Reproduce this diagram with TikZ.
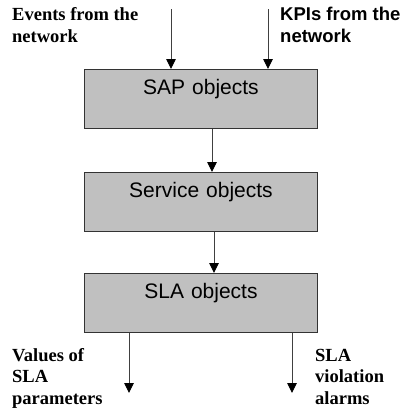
\documentclass[tikz,border=0pt]{standalone}
\usepackage{fontspec}
\setmainfont{Liberation Serif}
\newfontfamily\arialfont{Liberation Sans}
\usetikzlibrary{arrows.meta}
\definecolor{boxgray}{HTML}{C0C0C0}
\begin{document}
\begin{tikzpicture}[x=1pt,y=1pt,
  objbox/.style={draw=black!80, line width=0.9pt, fill=boxgray, inner sep=0pt,
    text width=233pt, align=center, text height=25pt, text depth=34pt,
    font=\arialfont\fontsize{21}{24}\selectfont},
  serlabel/.style={inner sep=0pt, align=left, anchor=base west,
    font=\bfseries\fontsize{18.5}{21.5}\selectfont},
  sanslabel/.style={inner sep=0pt, align=left, anchor=base west,
    font=\arialfont\bfseries\fontsize{18.5}{21.5}\selectfont},
  flow/.style={draw=black!75, line width=0.9pt,
    -{Triangle[width=9.5pt,length=10pt,color=black,fill=black]}}]
\useasboundingbox (0,0) rectangle (401,-410);
% boxes
\node[objbox, anchor=north west] (sap) at (84,-69) {SAP objects};
\node[objbox, anchor=north west] (svc) at (84,-172) {Service objects};
\node[objbox, anchor=north west] (sla) at (84,-273) {SLA objects};
% labels (anchored at the baseline of their last line)
\node[serlabel] (evt) at (12,-42) {Events from the\\network};
\node[sanslabel] (kpi) at (280,-42) {KPIs from the\\network};
\node[serlabel] (val) at (12,-404) {Values of\\SLA\\parameters};
\node[serlabel] (alm) at (315,-404) {SLA\\violation\\alarms};
% free ends
\coordinate (inL) at (171,-9);
\coordinate (inR) at (268,-9);
\coordinate (outL) at (129,-393);
\coordinate (outR) at (292,-393);
% connectors
\draw[flow] (inL) -- (inL |- sap.north);
\draw[flow] (inR) -- (inR |- sap.north);
\draw[flow] (sap.south -| 212,0) -- (svc.north -| 212,0);
\draw[flow] (svc.south -| 214,0) -- (sla.north -| 214,0);
\draw[flow] (outL |- sla.south) -- (outL);
\draw[flow] (outR |- sla.south) -- (outR);
\end{tikzpicture}
\end{document}
